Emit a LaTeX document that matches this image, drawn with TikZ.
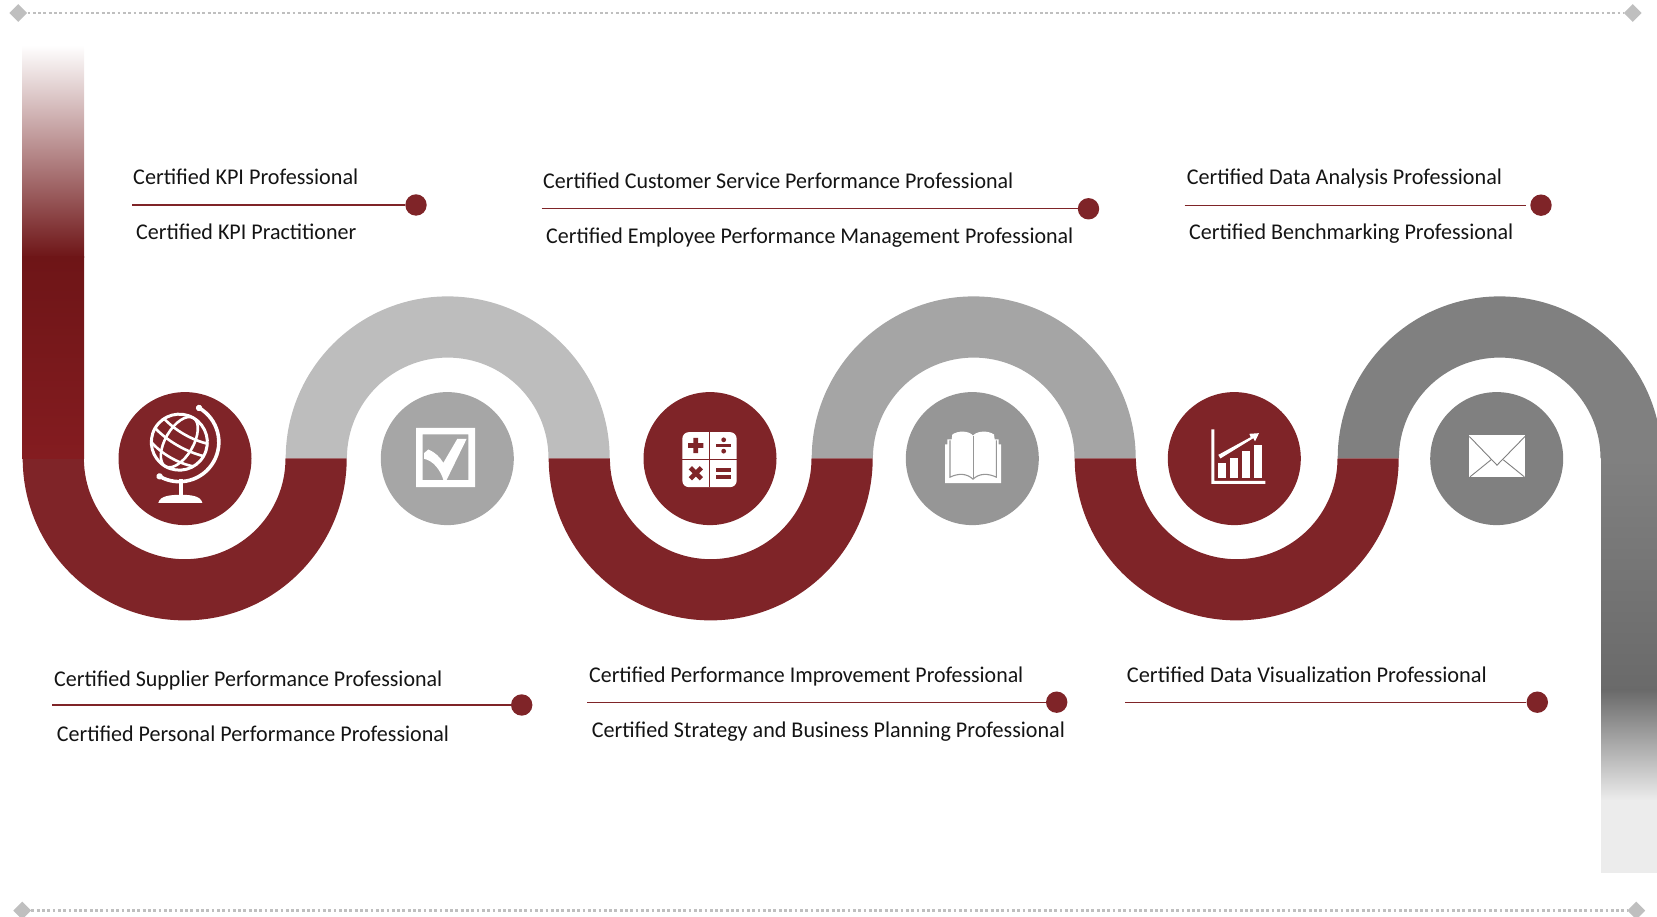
\documentclass[tikz,border=0pt]{standalone}
\usepackage{fontspec}
\usepackage{graphicx}
\setmainfont{Carlito}
\usetikzlibrary{shapes.geometric}
\definecolor{wine}{HTML}{7F2428}
\definecolor{gA}{HTML}{BDBDBD}
\definecolor{gB}{HTML}{A5A5A5}
\definecolor{gC}{HTML}{808080}
\definecolor{cA}{HTML}{A6A6A6}
\definecolor{cB}{HTML}{969696}
\definecolor{cC}{HTML}{808080}
\definecolor{dotg}{HTML}{BFBFBF}
\definecolor{barD}{HTML}{6E1517}
\definecolor{barB}{HTML}{841C20}
\definecolor{barG}{HTML}{6A6A6A}
\definecolor{barL}{HTML}{ECECEC}
\newcommand{\fitw}[2]{\resizebox{#1pt}{\height}{#2}}
\newcommand{\upband}[2]{\fill[#2] (#1-162,458.6) arc (180:0:162) -- (#1+100.8,458.6) arc (0:180:100.8) -- cycle;}
\newcommand{\lowband}[1]{\fill[wine] (#1-162,458.6) arc (180:360:162) -- (#1+100.8,458.6) arc (360:180:100.8) -- cycle;}
\tikzset{
  x=1pt,y=1pt,
  bigdisc/.style={circle,minimum size=133pt,inner sep=0pt,fill=#1},
  enddot/.style={circle,minimum size=21.4pt,inner sep=0pt,fill=wine},
  lab/.style={anchor=base west,inner sep=0pt,font=\fontsize{22.5}{25}\selectfont,text=black!92},
  rulel/.style={draw=wine,line width=1.3pt},
  endmark/.style={diamond,minimum size=18pt,inner sep=0pt,fill=dotg},
  dotline/.style={draw=dotg,line width=2.6pt,dash pattern=on 2.8pt off 2.5pt},
  zoomed/.style={x=0.33333pt,y=-0.33333pt},
  globeline/.style={draw=white,line width=2.6pt},
}
\begin{document}
\begin{tikzpicture}
\useasboundingbox (0,0) rectangle (1657,917);
% frame
\node[endmark] (tl) at (18.3,904) {};
\node[endmark] (tr) at (1632.7,904) {};
\node[endmark] (bl) at (22.2,6.4) {};
\node[endmark] (br) at (1636.3,6.4) {};
\draw[dotline] (tl) -- (tr);
\draw[dotline] (bl) -- (br);
% bands
\begin{scope}
\clip (0,0) rectangle (1657,917);
\upband{447.7}{gA}
\upband{973.7}{gB}
\upband{1499.7}{gC}
\end{scope}
\lowband{184.7}
\lowband{710.7}
\lowband{1236.7}
% fading bars
\shade[top color=white,bottom color=barD] (22,872) rectangle (84,659.5);
\shade[top color=barD,bottom color=barB] (22,660) rectangle (84,458.6);
\shade[top color=gC,bottom color=barG] (1601,458.6) rectangle (1657,226.5);
\shade[top color=barG,bottom color=barL] (1601,227) rectangle (1657,116.5);
\fill[barL] (1601,117) rectangle (1657,44);
% discs
\node[bigdisc=wine] (c1) at (185,458.4) {};
\node[bigdisc=cA] (c2) at (447.3,458.4) {};
\node[bigdisc=wine] (c3) at (710,458.4) {};
\node[bigdisc=cB] (c4) at (972.3,458.4) {};
\node[bigdisc=wine] (c5) at (1234.3,458.4) {};
\node[bigdisc=cC] (c6) at (1496.7,458.4) {};
% globe
\begin{scope}[shift={(100,536.5)},zoomed]
 \begin{scope}[shift={(238,185)},x=1pt,y=1pt,rotate=-30]
  \draw[globeline,line width=3pt] (0,0) circle[radius=28pt];
  \draw[globeline] (0,0) circle[x radius=14pt,y radius=28pt];
  \draw[globeline] (-26,13) .. controls (-10,8) and (10,8) .. (26,13);
  \draw[globeline] (-28,0) .. controls (-10,-5) and (10,-5) .. (28,0);
  \draw[globeline] (-24,-14) .. controls (-10,-19) and (10,-19) .. (24,-14);
  \draw[globeline,line width=3.6pt] (0,39.5) arc (90:-90:39.5);
  \fill[white] (0,39.5) circle[radius=3.2pt];
  \fill[white] (0,-39.5) circle[radius=3.2pt];
 \end{scope}
 \fill[white] (236,295) -- (249,295) -- (249,345) -- (236,345) -- cycle;
 \fill[white] (175,367) .. controls (180,345) and (215,343) .. (241,343) .. controls (270,343) and (302,345) .. (307,367) -- cycle;
\end{scope}
% check box
\begin{scope}[shift={(100,536.5)},zoomed]
 \fill[white,even odd rule] (948,142) -- (1125,142) -- (1125,320) -- (948,320) -- cycle
   (968,162) -- (1105,162) -- (1105,299) -- (968,299) -- cycle;
 \fill[white] (972,218) -- (985,207) .. controls (1005,215) and (1020,230) .. (1030,247)
   -- (1072,175) -- (1100,175) -- (1040,298) -- (1030,298) .. controls (1022,270) and (1000,240) .. (972,235) -- cycle;
\end{scope}
% calculator
\begin{scope}[shift={(630,536.5)},zoomed]
 \fill[white,rounded corners=6.5pt] (157,155) -- (320,155) -- (320,320) -- (157,320) -- cycle;
 \draw[wine,line width=0.8pt] (238,155) -- (238,320);
 \draw[wine,line width=0.8pt] (157,237) -- (320,237);
 \fill[wine] (174,188) -- (190,188) -- (190,172) -- (204,172) -- (204,188) -- (220,188) -- (220,202) -- (204,202) -- (204,218) -- (190,218) -- (190,202) -- (174,202) -- cycle;
 \fill[wine] (258,190) -- (304,190) -- (304,200) -- (258,200) -- cycle;
 \fill[wine] (281,178) circle[radius=2.4pt];
 \fill[wine] (281,212) circle[radius=2.4pt];
 \draw[wine,line width=4.6pt] (181,262) -- (214,295);
 \draw[wine,line width=4.6pt] (214,262) -- (181,295);
 \fill[wine] (258,262) -- (304,262) -- (304,275) -- (258,275) -- cycle;
 \fill[wine] (258,284) -- (304,284) -- (304,297) -- (258,297) -- cycle;
\end{scope}
% book
\begin{scope}[shift={(630,536.5)},zoomed]
 \fill[white] (945,192) -- (952,192) -- (952,177) -- (965,177) -- (967,162)
   .. controls (985,150) and (1015,150) .. (1029,165) .. controls (1043,150) and (1075,150) .. (1092,162)
   -- (1094,177) -- (1106,177) -- (1106,192) -- (1113,192) -- (1113,308) -- (945,308) -- cycle;
 \draw[cB,line width=1.1pt] (960,180) -- (960,290) .. controls (985,278) and (1010,278) .. (1029,296)
   .. controls (1048,278) and (1073,278) .. (1099,290) -- (1099,180);
 \draw[cB,line width=0.9pt] (1030,168) -- (1030,296);
\end{scope}
% chart
\begin{scope}[shift={(1160,536.5)},zoomed]
 \fill[white] (154,147) -- (163,147) -- (163,301) -- (316,301) -- (316,310) -- (154,310) -- cycle;
 \fill[white] (175,248) -- (197,248) -- (197,292) -- (175,292) -- cycle;
 \fill[white] (211,232) -- (233,232) -- (233,292) -- (211,292) -- cycle;
 \fill[white] (247,213) -- (269,213) -- (269,292) -- (247,292) -- cycle;
 \fill[white] (283,195) -- (305,195) -- (305,292) -- (283,292) -- cycle;
 \fill[white] (175,223) -- (272,170) -- (268,160) -- (297,158) -- (285,183) -- (280,173) -- (181,234) -- cycle;
\end{scope}
% envelope
\begin{scope}[shift={(1160,536.5)},zoomed]
 \fill[white] (928,165) -- (1095,165) -- (1095,290) -- (928,290) -- cycle;
 \draw[cC,line width=0.9pt] (928,168) -- (1011,254) -- (1095,168);
 \draw[cC,line width=0.9pt] (930,289) -- (993,238);
 \draw[cC,line width=0.9pt] (1030,238) -- (1093,289);
\end{scope}
% labels
\node[lab] (t1) at (133,732.5) {\fitw{225}{Certified KPI Professional}};
\node[lab] (t2) at (136,677) {\fitw{220}{Certified KPI Practitioner}};
\node[enddot] (d1) at (416,712) {};
\coordinate (s1) at (132,712);
\draw[rulel] (s1) -- (d1);
\node[lab] (t3) at (543,728) {\fitw{470}{Certified Customer Service Performance Professional}};
\node[lab] (t4) at (546,673) {\fitw{527}{Certified Employee Performance Management Professional}};
\node[enddot] (d2) at (1088.5,708.2) {};
\coordinate (s2) at (541.5,708.2);
\draw[rulel] (s2) -- (d2);
\node[lab] (t5) at (1186.7,732) {\fitw{315}{Certified Data Analysis Professional}};
\node[lab] (t6) at (1189,677) {\fitw{324}{Certified Benchmarking Professional}};
\node[enddot] (d3) at (1541,711.8) {};
\coordinate (s3) at (1184.7,711.8);
\draw[rulel,shorten >=4pt] (s3) -- (d3);
\node[lab] (t7) at (54,230.5) {\fitw{388}{Certified Supplier Performance Professional}};
\node[lab] (t8) at (56.7,175.5) {\fitw{392}{Certified Personal Performance Professional}};
\node[enddot] (d4) at (521.7,212) {};
\coordinate (s4) at (52,212);
\draw[rulel] (s4) -- (d4);
\node[lab] (t9) at (589,234.5) {\fitw{434}{Certified Performance Improvement Professional}};
\node[lab] (t10) at (591.7,179.5) {\fitw{473}{Certified Strategy and Business Planning Professional}};
\node[enddot] (d5) at (1056.7,214.8) {};
\coordinate (s5) at (587,214.8);
\draw[rulel] (s5) -- (d5);
\node[lab] (t11) at (1126.7,234.5) {\fitw{360}{Certified Data Visualization Professional}};
\node[enddot] (d6) at (1537.3,214.8) {};
\coordinate (s6) at (1125.4,214.8);
\draw[rulel] (s6) -- (d6);
\end{tikzpicture}
\end{document}
